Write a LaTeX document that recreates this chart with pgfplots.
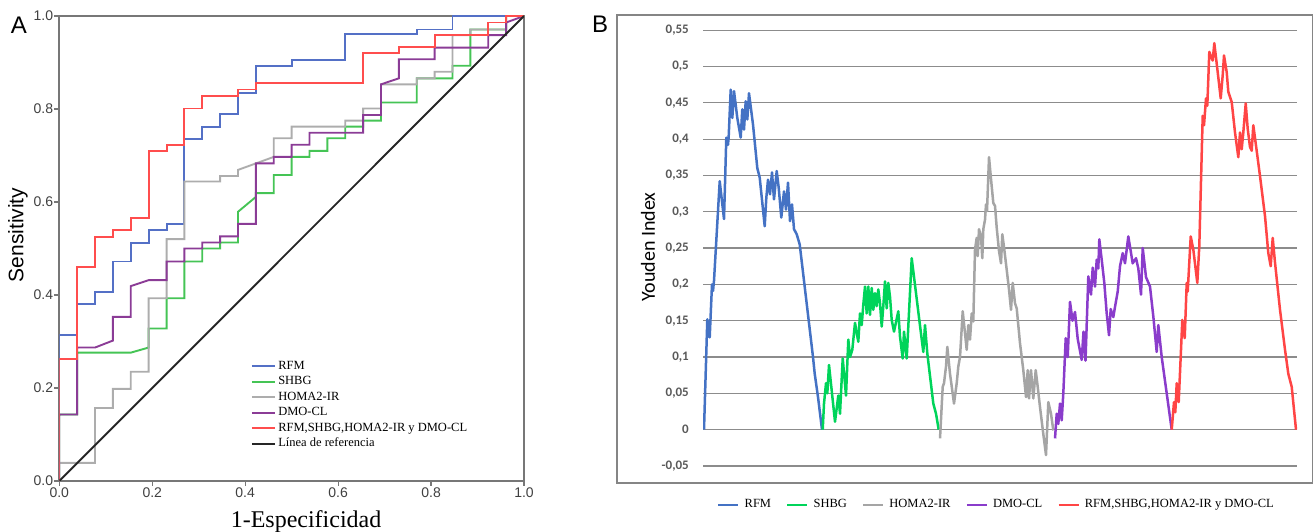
\documentclass[border=0pt]{standalone}
\usepackage{fontspec}
\setmainfont{Liberation Serif}
\newfontfamily\arialf{Liberation Sans}
\newfontfamily\carl{Carlito}
\usepackage{pgfplots}
\pgfplotsset{compat=1.18}
\definecolor{aBlue}{HTML}{5470C6}
\definecolor{aGreen}{HTML}{45C455}
\definecolor{aGray}{HTML}{ADADAD}
\definecolor{aPurple}{HTML}{8B3C96}
\definecolor{aRed}{HTML}{FF4D4D}
\definecolor{bBlue}{HTML}{4472C4}
\definecolor{bGreen}{HTML}{00D45A}
\definecolor{bGray}{HTML}{A5A5A5}
\definecolor{bPurple}{HTML}{8A3CCB}
\definecolor{bRed}{HTML}{FF4545}
\definecolor{frameGray}{HTML}{777777}
\definecolor{tickText}{HTML}{404040}
\definecolor{gridGray}{HTML}{8C8C8C}
\definecolor{bTick}{HTML}{595959}
\tikzset{aline/.style={line width=1.9pt, line join=miter}, bline/.style={line width=2.5pt, line join=round}}
\begin{document}
\begin{tikzpicture}[x=1pt,y=1pt]
\useasboundingbox (0,0) rectangle (1314,532);
% ---------------- Panel A ----------------
\begin{axis}[
  at={(59.3pt,51pt)}, anchor=south west,
  scale only axis, width=464.7pt, height=465pt,
  xmin=0, xmax=1, ymin=0, ymax=1,
  axis line style={frameGray, line width=1.6pt},
  tick style={frameGray, line width=1.2pt},
  tick align=outside, major tick length=5pt,
  xtick pos=bottom, ytick pos=left,
  xtick={0,0.2,0.4,0.6,0.8,1}, ytick={0,0.2,0.4,0.6,0.8,1},
  xticklabels={0.0,0.2,0.4,0.6,0.8,1.0},
  yticklabels={0.0,0.2,0.4,0.6,0.8,1.0},
  ticklabel style={font=\arialf\fontsize{14}{16}\selectfont, text=tickText},
  yticklabel style={inner sep=1pt},
  xticklabel style={inner sep=2pt},
  xlabel={1-Especificidad},
  ylabel={\arialf Sensitivity},
  x label style={at={(axis description cs:0.531,-0.088)}, anchor=center, font=\fontsize{24}{26}\selectfont},
  y label style={at={(axis description cs:-0.089,0.529)}, anchor=center, rotate=0, font=\fontsize{21}{23}\selectfont},
  legend style={at={(axis cs:0.406,0.2645)}, anchor=north west, draw=none, fill=none,
    font=\fontsize{12.5}{12.5}\selectfont, cells={anchor=west},
    nodes={inner sep=0pt, text height=9pt, text depth=3pt}, row sep=3.5pt,
    /tikz/every odd column/.append style={column sep=2.5pt}},
  legend image code/.code={\draw[#1, line width=1.6pt] (0pt,0pt) -- (23pt,0pt);},
]
\addplot[aBlue, aline] coordinates {(0,0) (0,0.314) (0.0385,0.314) (0.0385,0.380) (0.0769,0.380) (0.0769,0.406) (0.1154,0.406) (0.1154,0.472) (0.1538,0.472) (0.1538,0.511) (0.1923,0.511) (0.1923,0.540) (0.2308,0.540) (0.2308,0.552) (0.2692,0.552) (0.2692,0.735) (0.3077,0.735) (0.3077,0.762) (0.3462,0.762) (0.3462,0.789) (0.3846,0.789) (0.3846,0.834) (0.4231,0.834) (0.4231,0.893) (0.5,0.893) (0.5,0.905) (0.6154,0.905) (0.6154,0.961) (0.7692,0.961) (0.7692,0.971) (0.8462,0.971) (0.8462,1) (1,1)};
\addlegendentry{RFM}
\addplot[aGreen, aline] coordinates {(0,0) (0,0.143) (0.0385,0.143) (0.0385,0.276) (0.1538,0.276) (0.1923,0.287) (0.1923,0.328) (0.2308,0.328) (0.2308,0.393) (0.2692,0.393) (0.2692,0.472) (0.3077,0.472) (0.3077,0.500) (0.3462,0.500) (0.3462,0.513) (0.3846,0.513) (0.3846,0.579) (0.4231,0.611) (0.4231,0.619) (0.4615,0.619) (0.4615,0.658) (0.5,0.658) (0.5,0.697) (0.5385,0.697) (0.5385,0.710) (0.5769,0.710) (0.5769,0.737) (0.6154,0.737) (0.6154,0.762) (0.6538,0.762) (0.6538,0.775) (0.6923,0.775) (0.6923,0.814) (0.7692,0.814) (0.7692,0.866) (0.8462,0.866) (0.8462,0.893) (0.8846,0.893) (0.8846,0.971) (0.9615,0.971) (0.9615,1) (1,1)};
\addlegendentry{SHBG}
\addplot[aGray, aline] coordinates {(0,0) (0,0.039) (0.0769,0.039) (0.0769,0.157) (0.1154,0.157) (0.1154,0.198) (0.1538,0.198) (0.1538,0.235) (0.1923,0.235) (0.1923,0.393) (0.2308,0.393) (0.2308,0.520) (0.2692,0.520) (0.2692,0.644) (0.3462,0.644) (0.3462,0.656) (0.3846,0.656) (0.3846,0.669) (0.4615,0.697) (0.4615,0.737) (0.5,0.737) (0.5,0.762) (0.6154,0.762) (0.6154,0.775) (0.6538,0.775) (0.6538,0.801) (0.6923,0.801) (0.6923,0.853) (0.7692,0.853) (0.7692,0.866) (0.8077,0.866) (0.8077,0.880) (0.8462,0.880) (0.8462,0.959) (0.8846,0.959) (0.8846,0.971) (0.9615,0.971) (0.9615,1) (1,1)};
\addlegendentry{HOMA2-IR}
\addplot[aPurple, aline] coordinates {(0,0) (0,0.143) (0.0385,0.143) (0.0385,0.287) (0.0769,0.287) (0.1154,0.302) (0.1154,0.353) (0.1538,0.353) (0.1538,0.419) (0.1923,0.432) (0.2308,0.432) (0.2308,0.472) (0.2692,0.472) (0.2692,0.500) (0.3077,0.500) (0.3077,0.513) (0.3462,0.513) (0.3462,0.526) (0.3846,0.526) (0.3846,0.553) (0.4231,0.553) (0.4231,0.683) (0.4615,0.683) (0.4615,0.697) (0.5,0.697) (0.5,0.723) (0.5385,0.723) (0.5385,0.749) (0.6538,0.749) (0.6538,0.787) (0.6923,0.787) (0.6923,0.853) (0.7308,0.866) (0.7308,0.907) (0.8077,0.907) (0.8077,0.932) (0.9231,0.932) (0.9231,0.959) (0.9615,0.959) (0.9615,0.986) (1,1)};
\addlegendentry{DMO-CL}
\addplot[aRed, aline] coordinates {(0,0) (0,0.262) (0.0385,0.262) (0.0385,0.461) (0.0769,0.461) (0.0769,0.525) (0.1154,0.525) (0.1154,0.540) (0.1538,0.540) (0.1538,0.565) (0.1923,0.565) (0.1923,0.710) (0.2308,0.710) (0.2308,0.723) (0.2692,0.723) (0.2692,0.801) (0.3077,0.801) (0.3077,0.828) (0.3846,0.828) (0.3846,0.842) (0.4231,0.842) (0.4231,0.855) (0.6538,0.855) (0.6538,0.921) (0.7308,0.921) (0.7308,0.934) (0.8077,0.934) (0.8077,0.959) (0.9231,0.959) (0.9231,0.986) (0.9615,0.986) (0.9615,1) (1,1)};
\addlegendentry{RFM,SHBG,HOMA2-IR y DMO-CL}
\addplot[black!85, line width=1.9pt] coordinates {(0,0) (1,1)};
\addlegendentry{Línea de referencia}
\end{axis}
\node[font=\arialf\fontsize{24}{26}\selectfont, anchor=center] at (19,507) {A};
% ---------------- Panel B ----------------
\draw[frameGray!90, line width=1.4pt] (617,517) rectangle (1312.3,49);
\node[font=\arialf\fontsize{24}{26}\selectfont, anchor=center] at (600,508) {B};
\begin{axis}[
  at={(703pt,58.7pt)}, anchor=south west,
  scale only axis, width=594pt, height=450.5pt,
  xmin=0, xmax=594, ymin=-0.06, ymax=0.56,
  axis line style={draw=none},
  major tick length=0pt,
  xtick=\empty,
  ytick={-0.05,0,0.05,0.1,0.15,0.2,0.25,0.3,0.35,0.4,0.45,0.5,0.55},
  yticklabels={{-0,05},{0},{0,05},{0,1},{0,15},{0,2},{0,25},{0,3},{0,35},{0,4},{0,45},{0,5},{0,55}},
  yticklabel style={font=\carl\bfseries\fontsize{13}{15}\selectfont, text=bTick, anchor=east, inner sep=0pt, xshift=-14pt},
  ymajorgrids, grid style={gridGray, line width=1.1pt},
  ylabel={\carl Youden Index},
  y label style={at={(axis description cs:-0.0926,0.502)}, anchor=center, font=\fontsize{20}{22}\selectfont},
  legend columns=5,
  legend style={at={(axis description cs:0.0185,-0.052)}, anchor=north west, draw=none, fill=none,
    font=\fontsize{12.5}{12.5}\selectfont,
    nodes={inner sep=0pt, text height=9pt, text depth=3pt},
    /tikz/every odd column/.append style={column sep=5pt},
    /tikz/every even column/.append style={column sep=15pt}},
  legend image code/.code={\draw[#1, line width=2.5pt] (0pt,0pt) -- (20pt,0pt);},
]
\addplot[bBlue, bline] coordinates {(1,0) (4.3,0.152) (6.7,0.127) (9,0.200) (10,0.191) (11,0.205) (16.7,0.342) (21,0.290) (23.3,0.402) (25,0.392) (25.7,0.404) (27.7,0.468) (29.3,0.429) (31,0.466) (34.3,0.429) (37.7,0.402) (39.3,0.441) (41,0.413) (42.7,0.452) (44.3,0.427) (46,0.463) (50,0.420) (54.3,0.360) (56.7,0.347) (61.7,0.280) (63.3,0.319) (65,0.344) (67,0.324) (69,0.354) (71,0.317) (73.7,0.356) (75.7,0.333) (78.3,0.292) (81,0.328) (83,0.303) (85,0.340) (87,0.287) (89,0.310) (91,0.276) (93.7,0.269) (96.7,0.255) (110,0.100) (111.7,0.077) (115,0.045) (119,0)};
\addlegendentry{RFM}
\addplot[bGreen, bline] coordinates {(119.7,0) (121,0.036) (123,0.064) (124.3,0.050) (126,0.089) (132,0.011) (135.3,0.047) (137,0.022) (139.7,0.098) (143,0.047) (145.3,0.124) (147,0.100) (149.3,0.110) (152,0.147) (153.7,0.133) (155.3,0.121) (157,0.160) (158.7,0.144) (160.3,0.172) (162,0.197) (163.7,0.160) (165.3,0.197) (167,0.158) (168.7,0.195) (170.3,0.165) (172,0.188) (173.7,0.170) (175.3,0.193) (177,0.174) (178.7,0.142) (180.3,0.170) (182,0.204) (183.7,0.167) (185.3,0.202) (187,0.183) (188.7,0.151) (191,0.135) (195.3,0.163) (197,0.128) (199.7,0.098) (201,0.135) (203.7,0.098) (208.7,0.236) (216.3,0.151) (220.3,0.107) (222,0.144) (224.3,0.105) (230.3,0.036) (233,0.022) (235.7,0)};
\addlegendentry{SHBG}
\addplot[bGray, bline] coordinates {(237,-0.012) (239.7,0.059) (241,0.064) (243,0.087) (244.3,0.114) (247,0.077) (251,0.036) (253.7,0.064) (255.3,0.087) (257,0.100) (259.7,0.163) (263.7,0.110) (265.3,0.144) (267,0.124) (268.7,0.160) (270.3,0.149) (272,0.248) (273.7,0.264) (274.7,0.239) (276,0.276) (278,0.266) (279.3,0.236) (280.3,0.276) (282,0.289) (283,0.310) (284,0.301) (286,0.375) (288,0.345) (290.3,0.312) (292,0.308) (293.7,0.278) (296,0.246) (298,0.229) (299.3,0.269) (301.3,0.248) (303.7,0.220) (306,0.193) (308,0.165) (309.7,0.202) (312,0.174) (313.7,0.167) (317,0.119) (320.3,0.082) (323,0.045) (324.7,0.082) (326,0.043) (328,0.082) (330.3,0.043) (332.7,0.082) (334.7,0.059) (337,0.031) (340.3,-0.006) (343,-0.035) (345.3,0.038) (348,0.022) (350.3,-0.001)};
\addlegendentry{HOMA2-IR}
\addplot[bPurple, bline] coordinates {(352,-0.012) (353.7,0.022) (355.3,0.008) (357,0.036) (358.7,0.013) (360.3,0.050) (362.7,0.126) (364.7,0.100) (367,0.176) (369.5,0.150) (372,0.162) (374.7,0.125) (378.7,0.096) (380.5,0.135) (382.5,0.095) (385.3,0.211) (388,0.186) (389.7,0.223) (392,0.197) (393.7,0.234) (395.3,0.222) (396.3,0.262) (398.7,0.234) (401.3,0.202) (403.7,0.160) (406,0.130) (407.7,0.166) (410.3,0.155) (413,0.177) (414.7,0.190) (417,0.225) (419.7,0.243) (422,0.229) (425.3,0.266) (429.7,0.229) (433,0.236) (435.3,0.222) (438,0.186) (439.7,0.250) (443,0.210) (447,0.197) (450.3,0.156) (453.7,0.107) (455.3,0.144) (458.7,0.100) (468.7,0)};
\addlegendentry{DMO-CL}
\addplot[bRed, bline] coordinates {(468.7,0) (471,0.038) (472.3,0.024) (473.7,0.064) (475.7,0.038) (479.3,0.151) (481.7,0.126) (483.7,0.202) (484.7,0.190) (487.7,0.266) (490.3,0.248) (494.3,0.202) (496.3,0.253) (499.7,0.432) (501,0.419) (503,0.456) (504.3,0.446) (506.3,0.520) (509.7,0.508) (511.3,0.532) (514.7,0.492) (517.7,0.456) (519.7,0.488) (521,0.515) (523.7,0.492) (525.3,0.465) (528.7,0.451) (532,0.409) (535.3,0.375) (537,0.409) (538.7,0.386) (540.3,0.409) (542.7,0.449) (544.7,0.414) (547,0.389) (548.7,0.384) (550.3,0.419) (553,0.391) (557,0.349) (562,0.294) (565.3,0.243) (567.7,0.225) (569.7,0.264) (572,0.230) (577,0.165) (582,0.110) (585.3,0.077) (588.7,0.059) (593,0)};
\addlegendentry{RFM,SHBG,HOMA2-IR y DMO-CL}
\end{axis}
\end{tikzpicture}
\end{document}
